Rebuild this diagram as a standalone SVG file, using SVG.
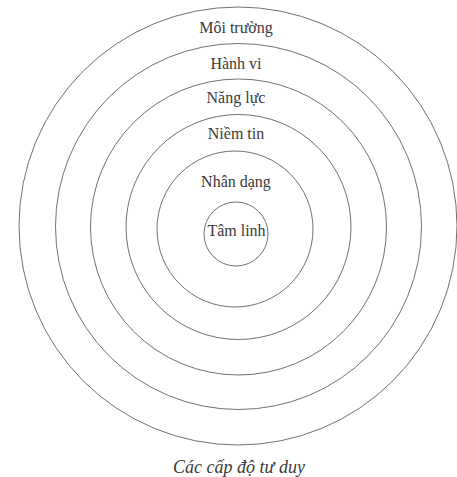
<svg xmlns="http://www.w3.org/2000/svg" width="457" height="477" viewBox="0 0 457 477">
<style>
.ring{fill:none;stroke:#707070;stroke-width:1}
.lbl{font-family:"Liberation Serif","Times New Roman",serif;font-size:16px;fill:#3a3a3a;text-anchor:middle}
.cap{font-family:"Liberation Serif","Times New Roman",serif;font-size:18px;font-style:italic;fill:#3a3a3a;text-anchor:middle}
</style>
<rect width="457" height="477" fill="#ffffff"/>
<g id="moi-truong">
<circle class="ring" cx="238" cy="226" r="219"/>
<text class="lbl" x="236" y="33">Môi trường</text>
</g>
<g id="hanh-vi">
<circle class="ring" cx="238.5" cy="226.5" r="183"/>
<text class="lbl" x="236" y="69">Hành vi</text>
</g>
<g id="nang-luc">
<circle class="ring" cx="238.5" cy="227" r="148"/>
<text class="lbl" x="236" y="103">Năng lực</text>
</g>
<g id="niem-tin">
<circle class="ring" cx="238.5" cy="227" r="112.5"/>
<text class="lbl" x="236" y="139">Niềm tin</text>
</g>
<g id="nhan-dang">
<circle class="ring" cx="235" cy="229" r="78"/>
<text class="lbl" x="236" y="187">Nhân dạng</text>
</g>
<g id="tam-linh">
<circle class="ring" cx="236" cy="234" r="32"/>
<text class="lbl" x="236.5" y="236">Tâm linh</text>
</g>
<text class="cap" x="239" y="473">Các cấp độ tư duy</text>
</svg>
